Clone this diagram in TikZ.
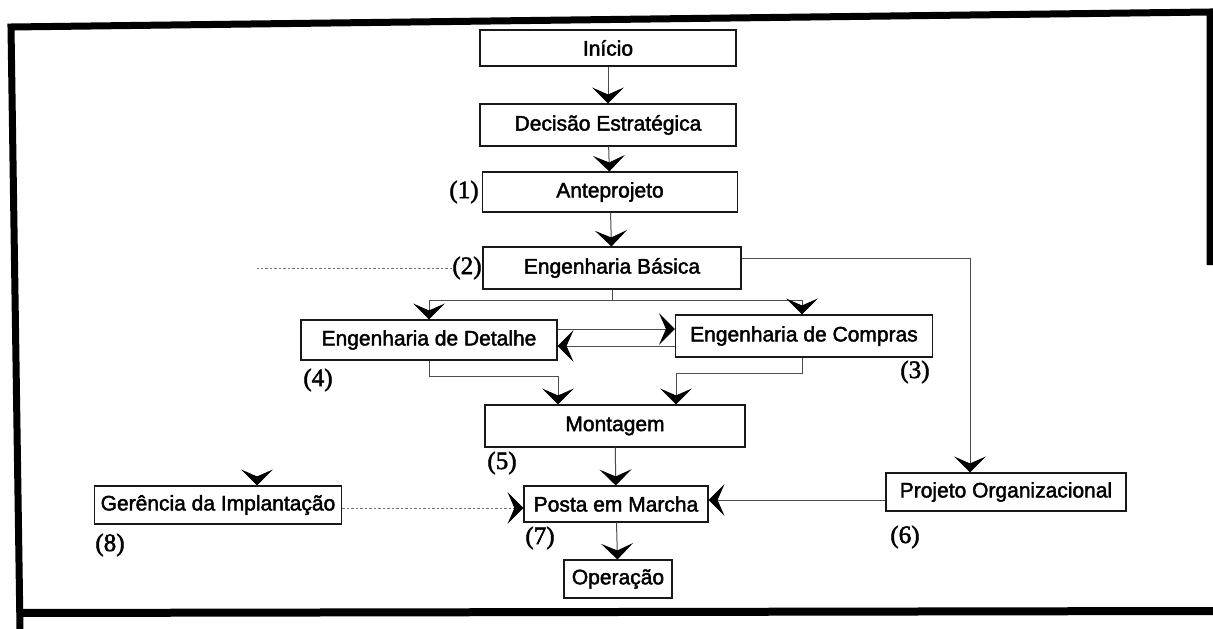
\documentclass[tikz,border=0pt]{standalone}
\usepackage{fontspec}
\setmainfont{Liberation Sans}
\newfontfamily\boxfont{Liberation Sans}[FakeBold=2]
\newfontfamily\numfont{Liberation Serif}[FakeBold=2]
\usetikzlibrary{arrows.meta}

\begin{document}
\begin{tikzpicture}[x=1pt,y=-1pt,
  box/.style={draw=black!90, line width=1.1pt, inner sep=0pt,
    font=\boxfont\fontsize{21}{24}\selectfont, text=black},
  tag/.style={inner sep=0pt, font=\numfont\fontsize{25}{28}\selectfont},
  tip/.style={-{Stealth[length=16pt,width=32pt,inset=7pt,color=black]}},
  link/.style={draw=black!70, line width=1pt, tip},
  dotline/.style={draw=black!55, line width=0.9pt, dash pattern=on 2.5pt off 2pt},
  frame/.style={draw=black, line width=7pt, line join=miter}
]
\useasboundingbox (0,0) rectangle (1213,629);

% outer frame
\draw[frame] (20,629) -- (11,27) -- (1210,12) -- (1210,265);
\draw[frame, line width=8pt] (17,613) -- (1213,611);

% process boxes
\node[box, minimum width=256pt, minimum height=36pt] (inicio)   at (608,48)  {Início};
\node[box, minimum width=256pt, minimum height=42pt] (decisao)  at (608,125) {Decisão Estratégica};
\node[box, minimum width=255pt, minimum height=40pt] (ante)     at (610,192) {Anteprojeto};
\node[box, minimum width=258pt, minimum height=42pt] (basica)   at (612,268) {Engenharia Básica};
\node[box, minimum width=256pt, minimum height=40pt] (detalhe)  at (429,340) {Engenharia de Detalhe};
\node[box, minimum width=257pt, minimum height=42pt] (compras)  at (804,336) {Engenharia de Compras};
\node[box, minimum width=260pt, minimum height=42pt] (montagem) at (615,426) {Montagem};
\node[box, minimum width=184pt, minimum height=36pt] (posta)    at (616,504) {Posta em Marcha};
\node[box, minimum width=108pt, minimum height=38pt] (operacao) at (618,579) {Operação};
\node[box, minimum width=240pt, minimum height=38pt] (projeto)  at (1006,492) {Projeto Organizacional};
\node[box, minimum width=247pt, minimum height=38pt] (gerencia) at (218,505) {Gerência da Implantação};

% numbered tags
\node[tag] (t1) at (464,192) {(1)};
\node[tag] (t2) at (467,268) {(2)};
\node[tag] (t3) at (915,372) {(3)};
\node[tag] (t4) at (318,380) {(4)};
\node[tag] (t5) at (502,463) {(5)};
\node[tag] (t6) at (905,537) {(6)};
\node[tag] (t7) at (540,538) {(7)};
\node[tag] (t8) at (110,545) {(8)};

% main sequence
\draw[link] (inicio) -- (decisao);
\draw[link] (decisao) -- (ante);
\draw[link] (ante) -- (basica);
\draw[link] (basica.south) -- ++(0,11) -| (detalhe.north);
\draw[link] (basica.south) -- ++(0,11) -| ([xshift=-2pt]compras.north);
\draw[link] ([yshift=10pt]basica.east) -| ([xshift=-36pt]projeto.north);

% exchange between detail and purchasing engineering
\draw[link] ([yshift=11pt]detalhe.east) -- ([yshift=11pt]detalhe.east -| compras.west);
\draw[link] ([yshift=-6pt]detalhe.east -| compras.west) -- ([yshift=-6pt]detalhe.east);

% into assembly
\draw[link] (detalhe.south) -- ++(0,16) -| ([xshift=-57pt]montagem.north);
\draw[link] ([xshift=-2pt]compras.south) -- ++(0,16) -| ([xshift=61pt]montagem.north);

\draw[link] (montagem) -- (posta);
\draw[link] ([yshift=4pt]posta.east -| projeto.west) -- ([yshift=4pt]posta.east);
\draw[link] (posta) -- (operacao);

% implementation management links
\coordinate (gcorner) at (257,268);
\coordinate (gstub) at (257,479);
\draw[dotline] (t2.west) -- (gcorner);
\draw[link] (gstub) -- (gstub |- gerencia.north);
\draw[dotline, tip] ([yshift=-3pt]gerencia.east) -- ([yshift=-3pt]gerencia.east -| posta.west);
\end{tikzpicture}
\end{document}
